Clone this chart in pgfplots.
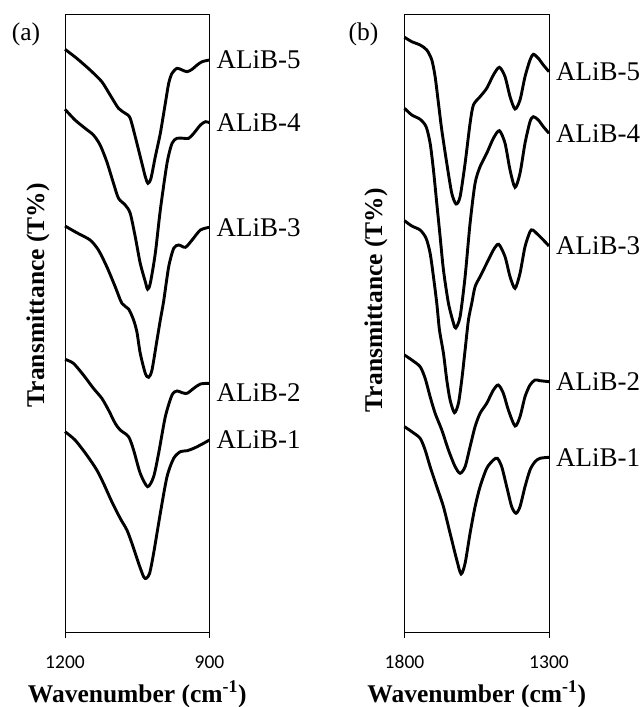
\documentclass[border=0pt]{standalone}
\usepackage{fontspec}
\setmainfont{Liberation Serif}
\newfontfamily\carlito{Carlito}
\usepackage{pgfplots}
\pgfplotsset{compat=1.18}
\newcommand\lbl{\fontsize{25.5}{30}\selectfont}
\newcommand\clbl{\fontsize{27}{32}\selectfont}
\tikzset{lab/.style={anchor=west, font=\clbl, inner sep=2pt, xshift=5pt}}
\pgfplotsset{
  ftir/.style={
    scale only axis, width=144.5pt, height=618pt,
    ymin=0, ymax=618, x dir=reverse,
    axis line style={line width=0.9pt, black},
    ytick=\empty, xtick pos=bottom, tick align=outside,
    major tick length=6pt,
    every tick/.style={line width=0.9pt, black},
    /pgf/number format/assume math mode=true,
    xticklabel style={font=\carlito\fontsize{19.5}{24}\selectfont, yshift=-14pt},
    xlabel style={font=\lbl\bfseries, at={(axis description cs:0.5,0)}, anchor=base, yshift=-70pt},
    ylabel style={font=\lbl\bfseries, anchor=center},
    xlabel={Wavenumber (cm\textsuperscript{-1})},
    ylabel={Transmittance (T\%)},
    clip=false,
    every axis plot post/.append style={black, line width=2.9pt, smooth, tension=0.45, mark=none},
  }
}
\begin{document}
\begin{tikzpicture}
\useasboundingbox (0,0) rectangle (644pt,707pt);
% ---------------- panel (a)
\begin{axis}[ftir, at={(65pt,75pt)}, anchor=south west,
  xmin=900, xmax=1200, xtick={1200,900}, xticklabels={1200,900},
  ylabel style={at={(axis description cs:-0.187,0.545)}}]
\addplot table {
1200 582.7
1175.7 573.7
1147.9 562
1123.6 550.3
1106.3 537
1088.9 523.7
1075 518.7
1064.6 513.7
1050.7 488.7
1040.3 468.7
1033.3 455.3
1027.8 448.7
1021.5 453.7
1012.5 475.3
1002.1 498.7
991.7 528.7
984.7 548.7
977.8 558.7
967.4 563.7
956.9 562
946.5 560.3
936.1 562.7
925.7 567
915.3 570.3
900 572
};
\addplot table {
1200 522.7
1179.2 512
1158.3 503.7
1141 497
1127.1 487
1113.2 470.3
1099.3 448.7
1088.9 433.7
1075 427
1064.6 418.7
1054.2 395.3
1043.8 368.7
1033.3 350.3
1028.5 342.7
1022.9 348.7
1012.5 378.7
1002.1 422
988.2 468.7
977.8 488.7
967.4 493.7
953.5 493.7
943.1 493.7
932.6 498.7
918.8 507
908.3 510.3
900 509.3
};
\addplot table {
1200 406
1175.7 399.3
1147.9 392
1130.6 382
1113.2 365.3
1095.8 345.3
1081.9 328.7
1068 323
1057.6 312
1050.7 300
1043.8 278.7
1033.3 258.7
1026.4 254.7
1019.4 262
1009 292
1002.1 312
995.2 330.7
984.7 365.3
974.3 383.7
963.9 387
950 384.7
936.1 392
918.8 402
900 404.7
};
\addplot table {
1200 272.7
1182.6 268.7
1161.8 257
1141 243.7
1123.6 233.7
1109.7 222
1095.8 208.7
1085.4 202
1068 195.3
1057.6 182
1043.8 158.7
1028.5 145.3
1016 155.3
1005.6 178.7
991.7 215.3
977.8 237
967.4 241
956.9 239.3
946.5 238.7
932.6 243.7
918.8 248
900 248.7
};
\addplot table {
1200 200.3
1179.2 192
1154.9 177
1134 162
1120.1 148.7
1102.8 130.3
1085.4 113.7
1071.5 102
1061.1 88.7
1047.2 68.7
1036.8 55.3
1031.3 53.7
1024.3 58.7
1016 78.7
1002.1 118.7
988.2 155.3
974.3 173.7
960.4 180.3
946.5 181.3
932.6 183.7
918.8 187
900 192
};
\node[lab] at (axis cs:900,572) {ALiB-5};
\node[lab] at (axis cs:900,509.3) {ALiB-4};
\node[lab] at (axis cs:900,404.7) {ALiB-3};
\node[lab, yshift=-9pt] at (axis cs:900,248.7) {ALiB-2};
\node[lab] at (axis cs:900,192) {ALiB-1};
\node[font=\lbl, anchor=center, xshift=-39pt, yshift=-20pt] at (axis description cs:0,1) {(a)};
\end{axis}
% ---------------- panel (b)
\begin{axis}[ftir, at={(404.5pt,75pt)}, anchor=south west,
  xmin=1300, xmax=1800, xtick={1800,1300}, xticklabels={1800,1300},
  ylabel style={at={(axis description cs:-0.197,0.537)}}]
\addplot table {
1800 594.7
1774.7 590.3
1745.9 587
1722.8 582
1705.5 572
1694 555.3
1682.5 528.7
1671 502
1653.7 468.7
1636.4 438.7
1621.4 428
1607.6 435.3
1590.3 468.7
1573.1 508.7
1561.5 527
1538.5 535.3
1515.5 543.7
1492.4 557
1471.7 564.7
1452.1 555.3
1434.8 535.3
1417.5 523
1400.3 532
1383 555.3
1365.7 572
1354.2 577.7
1336.9 573.7
1319.6 567
1300 560.3
};
\addplot table {
1800 523.7
1774.7 517
1745.9 512.7
1725.2 505.3
1711.3 488.7
1699.8 462
1688.3 428.7
1676.7 395.3
1665.2 362
1647.9 328.7
1630.7 309
1622.6 304
1607.6 315.3
1590.3 355.3
1573.1 408.7
1555.8 448.7
1538.5 465.3
1515.5 478.7
1492.4 493.7
1471.7 501.3
1452.1 488.7
1434.8 462
1417.5 444.7
1400.3 458.7
1383 488.7
1365.7 510.3
1354.2 515.3
1336.9 512
1319.6 505.3
1300 498.7
};
\addplot table {
1800 411.3
1774.7 406
1745.9 402
1725.2 393.7
1711.3 378.7
1699.8 355.3
1688.3 328.7
1679 302
1665.2 278.7
1653.7 252
1642.2 232
1627.2 219.3
1613.4 228.7
1601.9 252
1590.3 282
1578.8 312
1567.3 328.7
1555.8 345.3
1538.5 355.3
1515.5 368.7
1492.4 382
1474 387.7
1452.1 375.3
1434.8 355.3
1417.5 343.7
1400.3 358.7
1383 385.3
1365.7 400.3
1356.5 402
1336.9 397
1319.6 392
1300 386
};
\addplot table {
1800 277
1774.7 272
1745.9 265.3
1728.6 253.7
1711.3 235.3
1694 218.7
1671 202
1647.9 182
1624.9 165.3
1607.6 158.7
1590.3 165.3
1573.1 185.3
1555.8 205.3
1538.5 218.7
1515.5 228.7
1492.4 242
1475.3 247
1457.9 238.7
1440.6 222
1417.5 206
1400.3 215.3
1383 235.3
1365.7 247
1348.4 252
1331.1 251.3
1300 250.3
};
\addplot table {
1800 205.3
1774.7 200.3
1745.9 193.7
1728.6 182
1711.3 165.3
1688.3 145.3
1665.2 125.3
1642.2 98.7
1619.1 72
1604.2 58
1590.3 68.7
1573.1 98.7
1555.8 125.3
1538.5 145.3
1515.5 163.7
1492.4 172
1478.6 173.7
1463.6 165.3
1446.3 145.3
1429.1 125.3
1414.1 118.7
1400.3 125.3
1383 145.3
1365.7 162
1348.4 170.3
1331.1 173.7
1300 174.7
};
\node[lab] at (axis cs:1300,560.3) {ALiB-5};
\node[lab] at (axis cs:1300,498.7) {ALiB-4};
\node[lab] at (axis cs:1300,386) {ALiB-3};
\node[lab] at (axis cs:1300,250.3) {ALiB-2};
\node[lab] at (axis cs:1300,174.7) {ALiB-1};
\node[font=\lbl, anchor=center, xshift=-41pt, yshift=-20pt] at (axis description cs:0,1) {(b)};
\end{axis}
\end{tikzpicture}
\end{document}
